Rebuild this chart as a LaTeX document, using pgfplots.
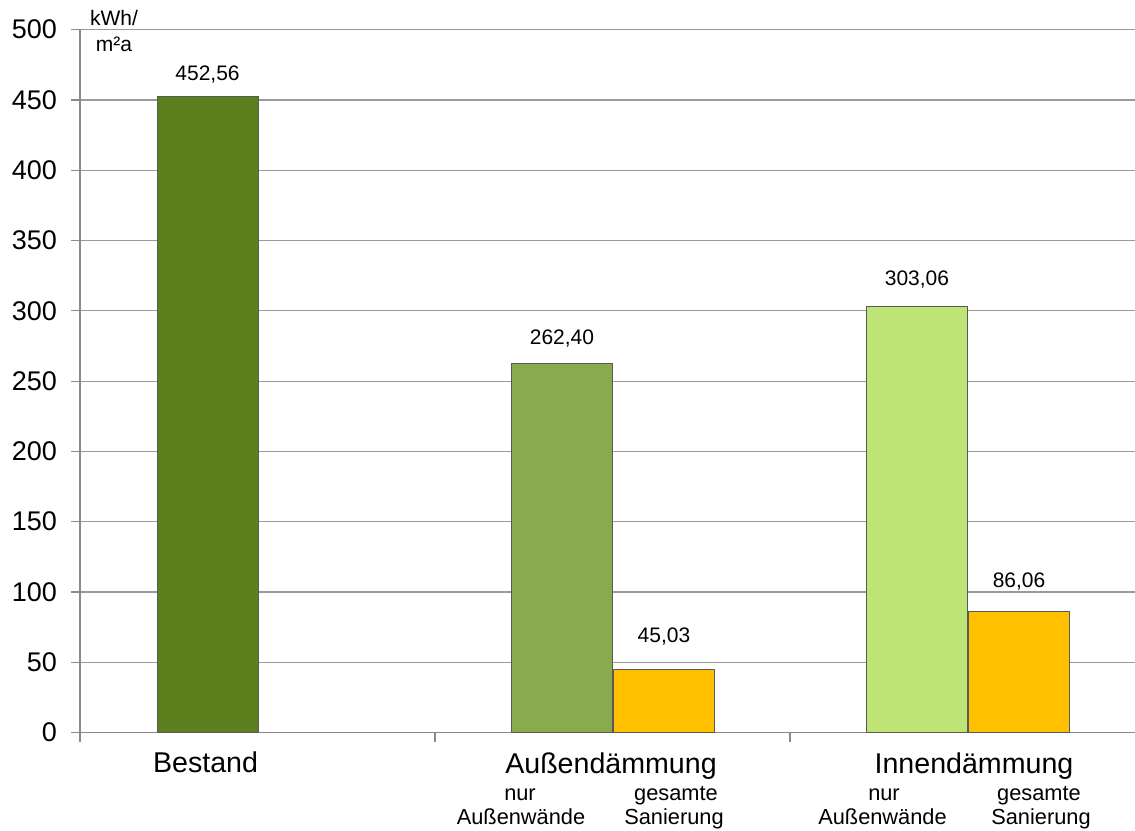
\documentclass[border=0pt]{standalone}
\usepackage{pgfplots}
\pgfplotsset{compat=1.18}
\usepackage{fontspec}
\setmainfont{Liberation Sans}

\definecolor{bestand}{HTML}{5E7F1E}
\definecolor{aussen}{HTML}{8AAA4E}
\definecolor{innen}{HTML}{BDE474}
\definecolor{gesamt}{HTML}{FFC000}
\definecolor{achse}{HTML}{8A8A8A}
\definecolor{gitter}{HTML}{9A9A9A}

% one picture unit = 0.5pt, origin at the lower left corner of the page
\newcommand{\fs}[1]{\fontsize{#1}{#1}\selectfont}

\begin{document}
\begin{tikzpicture}[x=0.5pt,y=0.5pt]
\begin{axis}[
  at={(40pt,48.7pt)}, anchor=south west,
  scale only axis, width=527.5pt, height=351.5pt,
  xmin=0, xmax=2.9718, ymin=0, ymax=500,
  axis x line*=bottom, axis y line*=left,
  axis line style={achse, line width=0.6pt},
  xtick={0,1,2}, xticklabels={},
  ytick={0,50,...,500},
  tick align=outside, major tick length=4.5pt,
  tick style={achse, line width=0.6pt},
  ymajorgrids, grid style={gitter, line width=0.6pt},
  /pgf/number format/assume math mode=true,
  yticklabel style={font=\fs{13.5}, xshift=-3.5pt},
  clip=false,
  every axis plot/.append style={
    ybar, bar width=0.2845, bar shift=0pt,
    draw=black!65, line width=0.5pt,
    nodes near coords={\pgfmathprintnumber[fixed,fixed zerofill,precision=2,use comma,assume math mode=true]{\pgfplotspointmeta}},
  },
]
\addplot[fill=bestand, nodes near coords style={anchor=base, yshift=8pt, font=\fs{10.5}}]
  coordinates {(0.3592,452.56)};
\addplot[fill=aussen, nodes near coords style={anchor=base, yshift=9.5pt, font=\fs{10.5}}]
  coordinates {(1.3577,262.40)};
\addplot[fill=gesamt, nodes near coords style={anchor=base, yshift=13.3pt, font=\fs{10.5}}]
  coordinates {(1.6451,45.03)};
\addplot[fill=innen, nodes near coords style={anchor=base, yshift=10.3pt, font=\fs{10.5}}]
  coordinates {(2.3577,303.06)};
\addplot[fill=gesamt, nodes near coords style={anchor=base, yshift=12.2pt, font=\fs{10.5}}]
  coordinates {(2.6451,86.06)};
\end{axis}

% unit of the value axis
\node[anchor=base, font=\fs{10.5}, inner sep=0pt] at (114,804) {kWh/};
\node[anchor=base, font=\fs{10.5}, inner sep=0pt] at (114,778.5) {m²a};

% category labels
\node[anchor=base, font=\fs{14.3}, inner sep=0pt] at (205.5,57) {Bestand};
\node[anchor=base, font=\fs{14.3}, inner sep=0pt] at (611,56) {Außendämmung};
\node[anchor=base, font=\fs{14.3}, inner sep=0pt] at (974,56) {Innendämmung};

\node[anchor=base, font=\fs{10.9}, inner sep=0pt] at (520,30) {nur};
\node[anchor=base, font=\fs{10.9}, inner sep=0pt] at (521,5) {Außenwände};
\node[anchor=base, font=\fs{10.9}, inner sep=0pt] at (676,30) {gesamte};
\node[anchor=base, font=\fs{10.9}, inner sep=0pt] at (674,5) {Sanierung};

\node[anchor=base, font=\fs{10.9}, inner sep=0pt] at (884,30) {nur};
\node[anchor=base, font=\fs{10.9}, inner sep=0pt] at (882.5,5) {Außenwände};
\node[anchor=base, font=\fs{10.9}, inner sep=0pt] at (1039,30) {gesamte};
\node[anchor=base, font=\fs{10.9}, inner sep=0pt] at (1041,5) {Sanierung};

\pgfresetboundingbox
\useasboundingbox (0,0) rectangle (1135,830);
\end{tikzpicture}
\end{document}
